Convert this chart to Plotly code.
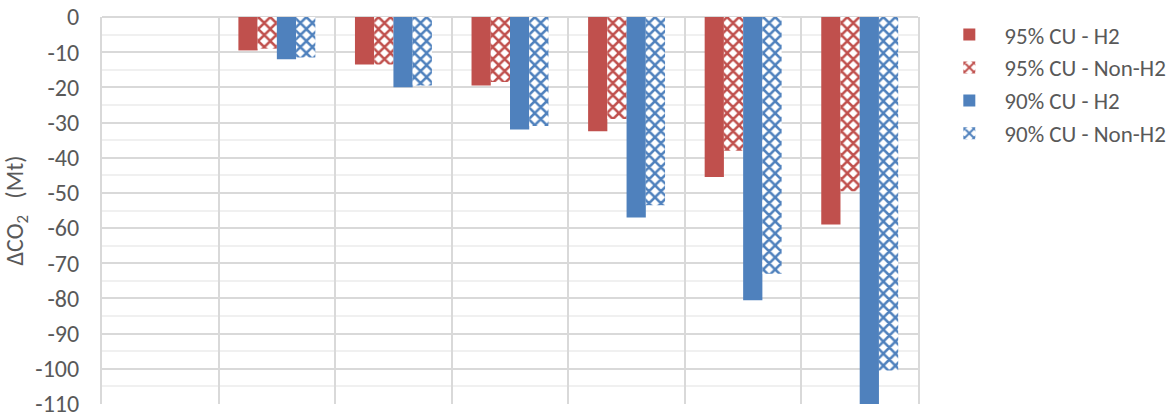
import plotly.graph_objects as go

categories = [0, 1, 2, 3, 4, 5, 6]
series_names = ["95% CU - H2", "95% CU - Non-H2", "90% CU - H2", "90% CU - Non-H2"]
cu95_h2 = [None, -9.5, -13.5, -19.5, -32.5, -45.5, -59.0]
cu95_nonh2 = [None, -9.0, -13.5, -18.5, -29.0, -38.0, -49.5]
cu90_h2 = [None, -12.0, -20.0, -32.0, -57.0, -80.5, -110.0]
cu90_nonh2 = [None, -11.5, -19.5, -31.0, -53.5, -73.0, -100.5]
y_ticks = [0, -10, -20, -30, -40, -50, -60, -70, -80, -90, -100, -110]

RED = "#C0504D"
BLUE = "#4F81BD"
FONT = "Carlito, Lato, 'Liberation Sans', sans-serif"
FS = 24

fig = go.Figure()

def solid(name, vals, color):
    return go.Bar(x=categories, y=vals, name=name,
                  marker=dict(color=color, line=dict(width=0)))

def checker(name, vals, color):
    return go.Bar(x=categories, y=vals, name=name,
                  marker=dict(color="white",
                              line=dict(width=0, color=color),
                              pattern=dict(shape="x", fgcolor=color, bgcolor="white",
                                           fgopacity=1, size=8.5, solidity=0.5,
                                           fillmode="replace")))

fig.add_trace(solid(series_names[0], cu95_h2, RED))
fig.add_trace(checker(series_names[1], cu95_nonh2, RED))
fig.add_trace(solid(series_names[2], cu90_h2, BLUE))
fig.add_trace(checker(series_names[3], cu90_nonh2, BLUE))

grid_x = [c - 0.5 for c in categories] + [categories[-1] + 0.5]

fig.update_layout(
    width=1172, height=419,
    margin=dict(l=102, r=254, t=17, b=15, autoexpand=False),
    paper_bgcolor="white", plot_bgcolor="white",
    barmode="group", bargap=0.34, bargroupgap=0,
    font=dict(family=FONT, size=FS, color="#595959"),
    showlegend=True,
    legend=dict(x=1.02, y=1.01, xanchor="left", yanchor="top",
                font=dict(family=FONT, size=23, color="#595959"),
                tracegroupgap=0, itemwidth=60, bgcolor="rgba(0,0,0,0)"),
    xaxis=dict(range=[-0.5, 6.5], tickmode="array", tickvals=grid_x,
               showticklabels=False, ticks="", showgrid=True, automargin=False,
               gridcolor="#d9d9d9", gridwidth=2, zeroline=False,
               showline=False),
    yaxis=dict(range=[-110, 0], tickmode="array", tickvals=y_ticks,
               ticktext=[str(v) for v in y_ticks], showgrid=True, automargin=False,
               gridcolor="#d9d9d9", gridwidth=2, zeroline=True,
               zerolinecolor="#d9d9d9", zerolinewidth=2,
               showline=True, linecolor="#d9d9d9", linewidth=2, mirror=True,
               ticks="", ticklabelstandoff=16, ticklabeloverflow="allow",
               tickfont=dict(family=FONT, size=FS, color="#595959"),
               minor=dict(dtick=5, tick0=0, showgrid=True, gridcolor="#f0f0f0",
                          gridwidth=2, ticks=""),
               title=dict(text="ΔCO<sub>2</sub>&nbsp;&nbsp;&nbsp;(Mt)", standoff=10,
                          font=dict(family=FONT, size=FS, color="#595959"))),
)

post = ("var d=document.getElementById('{plot_id}');"
        "document.documentElement.style.margin='0';"
        "document.body.style.margin='0';document.body.style.padding='0';"
        "document.body.style.overflow='hidden';"
        "d.style.position='fixed';d.style.left='0px';d.style.top='0px';")
fig.write_html("out.html", post_script=post, config={"displayModeBar": False})
